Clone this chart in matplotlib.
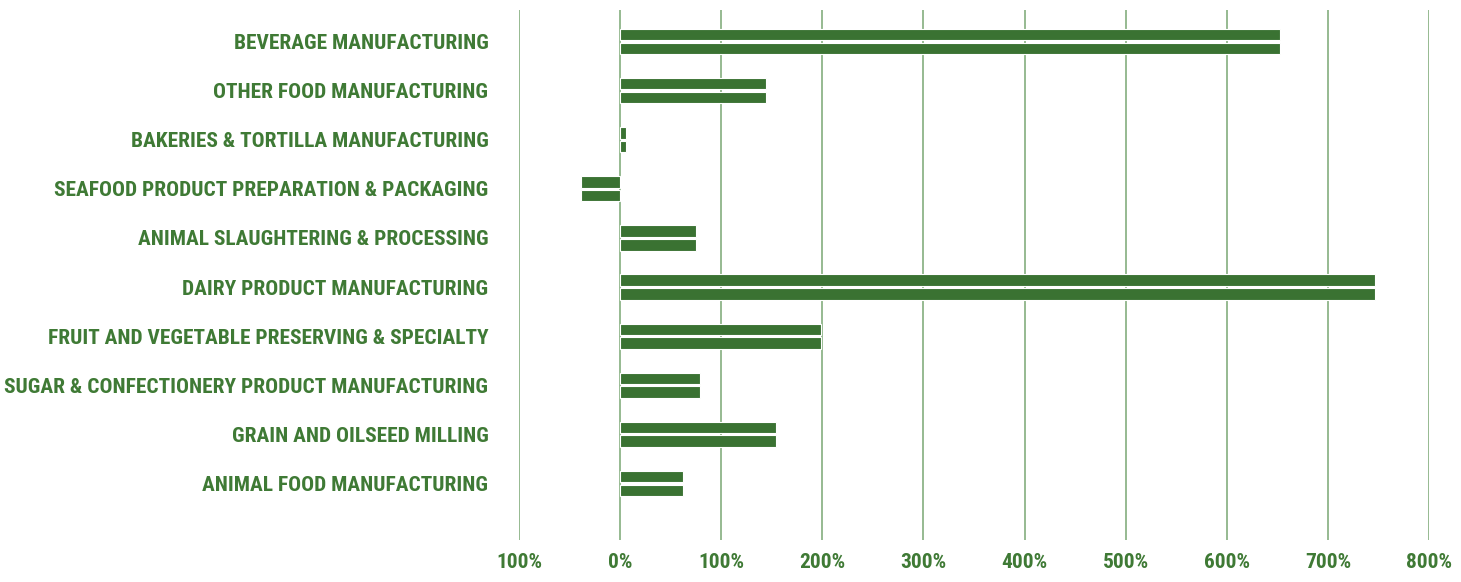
import matplotlib
matplotlib.use("Agg")
import matplotlib.pyplot as plt
from matplotlib import font_manager

categories = [
    "BEVERAGE MANUFACTURING",
    "OTHER FOOD MANUFACTURING",
    "BAKERIES & TORTILLA MANUFACTURING",
    "SEAFOOD PRODUCT PREPARATION & PACKAGING",
    "ANIMAL SLAUGHTERING & PROCESSING",
    "DAIRY PRODUCT MANUFACTURING",
    "FRUIT AND VEGETABLE PRESERVING & SPECIALTY",
    "SUGAR & CONFECTIONERY PRODUCT MANUFACTURING",
    "GRAIN AND OILSEED MILLING",
    "ANIMAL FOOD MANUFACTURING",
]
series_a = [653, 144, 6, -39, 75, 747, 199, 79, 154, 62]
series_b = [653, 144, 6, -39, 75, 747, 199, 79, 154, 62]
tick_values = [-100, 0, 100, 200, 300, 400, 500, 600, 700, 800]
tick_labels = ["100%", "0%", "100%", "200%", "300%", "400%", "500%", "600%", "700%", "800%"]

BAR = "#3a7232"
TEXT = "#3f7a35"
GRID = "#8db488"

installed = {f.name for f in font_manager.fontManager.ttflist}
family = ["DejaVu Sans"]
for name in ["Roboto Condensed", "Archivo Narrow", "Asap Condensed", "Liberation Sans"]:
    if name in installed:
        family = [name, "DejaVu Sans"]
        break

fig = plt.figure(figsize=(14.61, 5.82), dpi=100)
ax = fig.add_axes([519 / 1461, 1 - 540 / 582, (1429 - 519) / 1461, 530 / 582])

y = list(range(len(categories)))
h = 0.235
off = 0.14
ax.barh([v - off for v in y], series_a, height=h, color=BAR, edgecolor="white", linewidth=0.8, zorder=3)
ax.barh([v + off for v in y], series_b, height=h, color=BAR, edgecolor="white", linewidth=0.8, zorder=3)

ax.set_xlim(-100, 800)
ax.set_ylim(len(categories) - 1 + 1.15, -0.64)

for t in tick_values:
    ax.axvline(t, color=GRID, linewidth=1.3, zorder=1)

ax.set_xticks(tick_values)
ax.set_xticklabels(tick_labels, family=family, fontweight="bold", fontsize=15.4, color=TEXT)
ax.set_yticks(y)
ax.set_yticklabels(categories, family=family, fontweight="bold", fontsize=15.4, color=TEXT)
ax.tick_params(axis="both", length=0)
ax.tick_params(axis="y", pad=22)
ax.tick_params(axis="x", pad=9)
for s in ax.spines.values():
    s.set_visible(False)

fig.savefig("out.png", dpi=100, facecolor="white")
